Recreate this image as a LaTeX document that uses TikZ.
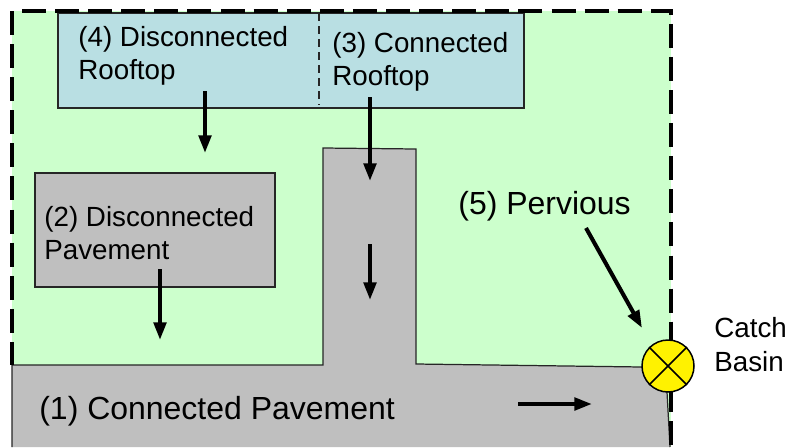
\documentclass[tikz,border=0pt]{standalone}
\usepackage{fontspec}
\setmainfont{Liberation Sans}
\usepackage{xcolor}
\usetikzlibrary{arrows.meta}
\definecolor{pervgreen}{HTML}{CCFFCC}
\definecolor{roofblue}{HTML}{B9DFE3}
\definecolor{pavegray}{HTML}{BFBFBF}
\tikzset{
    flow/.style={line width=2.3pt,-{Triangle[length=10pt,width=7pt]}},
    edge/.style={line width=0.7pt,draw=black!85},
    site/.style={line width=1.9pt,dash pattern=on 0.48cm off 0.182cm},
    bigtext/.style={inner sep=0pt,anchor=base west,font=\fontsize{18.2}{18.8}\selectfont},
    smalltext/.style={inner sep=0pt,anchor=base west,font=\fontsize{15.8}{18.8}\selectfont},
}

\begin{document}
\begin{tikzpicture}[x=0.02cm,y=-0.02cm]
    \useasboundingbox (0,0) rectangle (787,447);
    % site and surfaces
    \fill[pervgreen] (12,11) rectangle (671,447);
    \draw[edge,fill=pavegray] (12,447) -- (12,365) -- (323,365) -- (323,148) -- (416,149) -- (416,364) -- (642,367)
        -- (667,392) -- (670,447);
    \draw[edge,fill=roofblue] (58,13) rectangle (524,108);
    \draw[edge,dash pattern=on 4.8pt off 2.6pt] (319,13) -- (319,105);
    \draw[edge,fill=pavegray] (35,173) rectangle (275,287);
    \draw[site] (22,11) -- (671,11) -- (671,447);
    \draw[site] (12,11) -- (12,365);
    % catch basin
    \node[circle,draw=black,line width=0.85pt,fill=yellow,minimum size=52*0.02cm,inner sep=0pt] (basin) at (668,366) {};
    \draw[line width=0.85pt] (basin.45) -- (basin.225);
    \draw[line width=0.85pt] (basin.135) -- (basin.315);
    % labels
    \node[smalltext] (roofb) at (78,46) {(4) Disconnected};
    \node[smalltext] (roofbb) at (78,79) {Rooftop};
    \node[smalltext] (roofa) at (332,52) {(3) Connected};
    \node[smalltext] (roofaa) at (332,85) {Rooftop};
    \node[smalltext] (paveb) at (44,226) {(2) Disconnected};
    \node[smalltext] (pavebb) at (44,259) {Pavement};
    \node[bigtext] (pavea) at (39,419) {(1) Connected Pavement};
    \node[bigtext] (perv) at (458,214) {(5) Pervious};
    \node[smalltext] (catch) at (714,337) {Catch};
    \node[smalltext] (catchb) at (714,371) {Basin};
    % flow arrows
    \coordinate (a1) at (205,91);
    \coordinate (a2) at (205,153);
    \coordinate (b1) at (370,97);
    \coordinate (b2) at (370,181);
    \coordinate (c1) at (370,244);
    \coordinate (c2) at (370,300);
    \coordinate (d1) at (160,269);
    \coordinate (d2) at (160,340);
    \coordinate (e1) at (518,404);
    \coordinate (e2) at (592,404);
    \coordinate (f1) at (586,228);
    \coordinate (f2) at (642,328);
    \draw[flow] (a1) -- (a2);
    \draw[flow] (b1) -- (b2);
    \draw[flow] (c1) -- (c2);
    \draw[flow] (d1) -- (d2);
    \draw[flow] (e1) -- (e2);
    \draw[flow] (f1) -- (f2);
\end{tikzpicture}
\end{document}
